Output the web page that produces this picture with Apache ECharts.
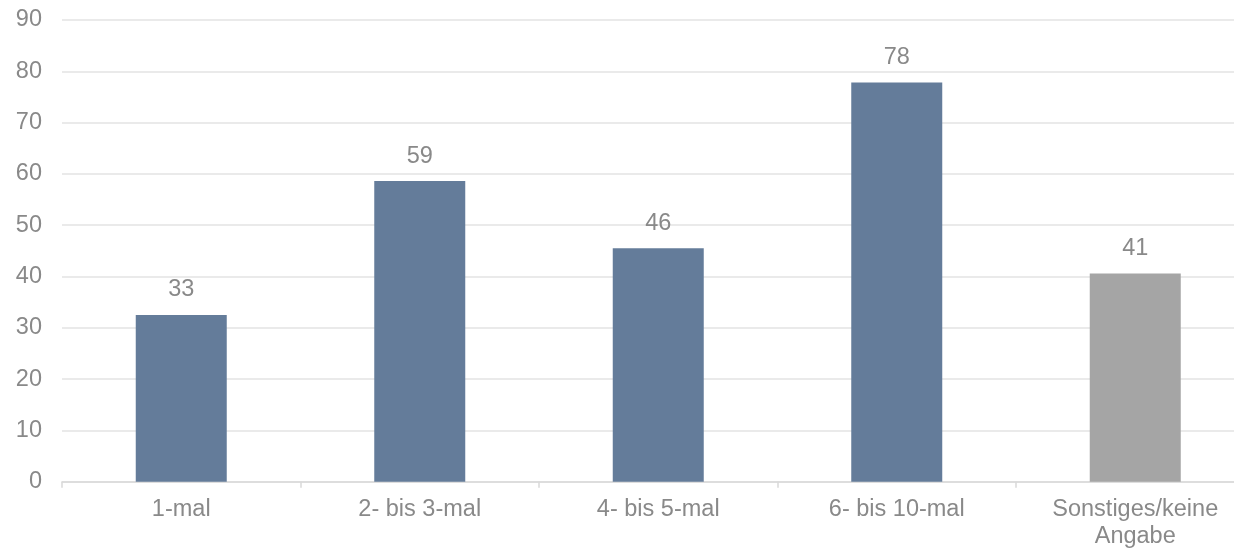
<!DOCTYPE html>
<html>
<head>
<meta charset="utf-8">
<script src="https://cdn.jsdelivr.net/npm/echarts@6/dist/echarts.min.js"></script>
<style>html,body{margin:0;padding:0;background:#fff;overflow:hidden;width:1234px;height:552px;}#c{width:1255px;height:552px;}</style>
</head>
<body>
<div id="c"></div>
<script>
var categories = ['1-mal', '2- bis 3-mal', '4- bis 5-mal', '6- bis 10-mal', 'Sonstiges/keine\nAngabe'];
var values = [32.5, 58.6, 45.5, 77.8, 40.6];
var barColors = ['#647C9A', '#647C9A', '#647C9A', '#647C9A', '#A5A5A5'];
var yTicks = [0, 10, 20, 30, 40, 50, 60, 70, 80, 90];

var chart = echarts.init(document.getElementById('c'), null, {renderer: 'canvas'});
var font = 'Liberation Sans, Arial, sans-serif';
chart.setOption({
  animation: false,
  backgroundColor: '#ffffff',
  grid: {left: 62, right: 0.5, top: 20, bottom: 70.3, containLabel: false},
  xAxis: {
    type: 'category',
    data: categories,
    axisLine: {lineStyle: {color: '#D9D9D9', width: 1.5}},
    axisTick: {show: true, length: 6, lineStyle: {color: '#D9D9D9', width: 1.5}},
    axisLabel: {color: '#898989', fontSize: 23.5, fontFamily: font, margin: 14, lineHeight: 27, interval: 0}
  },
  yAxis: {
    type: 'value',
    min: yTicks[0],
    max: yTicks[yTicks.length - 1],
    interval: 10,
    axisLine: {show: false},
    axisTick: {show: false},
    splitLine: {lineStyle: {color: '#E3E3E3', width: 1.5}},
    axisLabel: {color: '#898989', fontSize: 23.5, fontFamily: font, margin: 20}
  },
  series: [{
    type: 'bar',
    data: values.map(function (v, i) { return {value: v, itemStyle: {color: barColors[i]}}; }),
    barWidth: 91,
    label: {
      show: true,
      position: 'top',
      distance: 13,
      color: '#898989',
      fontSize: 23.5,
      fontFamily: font,
      formatter: function (p) { return Math.round(p.value); }
    }
  }]
});
</script>
</body>
</html>
